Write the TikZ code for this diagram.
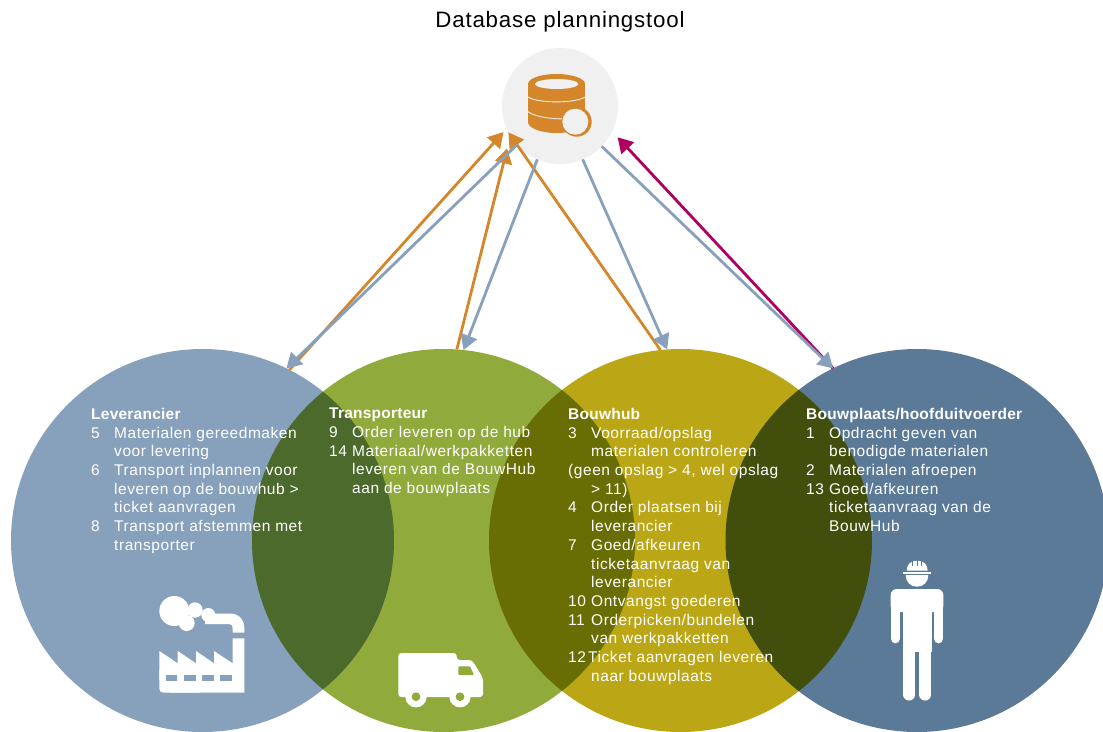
\documentclass[tikz,border=0pt]{standalone}
\usepackage{fontspec}
\setmainfont{Liberation Sans}[LetterSpace=3.6,BoldFeatures={LetterSpace=1.5}]
\usetikzlibrary{arrows.meta}
\usetikzlibrary{math}
\usetikzlibrary{shapes.misc}
\definecolor{levblue}{HTML}{87A0BC}
\definecolor{tragreen}{HTML}{90AA3C}
\definecolor{hubyellow}{HTML}{BBA615}
\definecolor{siteblue}{HTML}{5B7A98}
\definecolor{dbgrey}{HTML}{F0F0F0}
\definecolor{dborange}{HTML}{D5862A}
\definecolor{sitemagenta}{HTML}{B0005F}
\newcommand{\nr}[1]{\makebox[23pt][l]{#1}}
\tikzset{
	partycircle/.style={circle,minimum size=383pt,inner sep=0pt,outer sep=0pt,blend mode=multiply},
	itemtext/.style={text=white,align=left,inner sep=0pt,font=\fontsize{15.5}{18.7}\selectfont},
	orangearrow/.style={draw=dborange,line width=2.8pt,-{Triangle[length=15pt,width=17pt]}},
	bluearrow/.style={draw=levblue,line width=2.8pt,-{Triangle[length=15pt,width=17pt]}},
	magentaarrow/.style={draw=sitemagenta,line width=2.8pt,-{Triangle[length=15pt,width=17pt]}},
}

\begin{document}
\begin{tikzpicture}[x=1pt,y=-1pt]
	\tikzmath{\levx=202.5; \trax=\levx+241; \hubx=\trax+237; \sitex=\hubx+236.5; \ciry=540.5;
	\dbx=560; \dby=106; \texty=408;
	}
	\useasboundingbox (0,0) rectangle (1103,731);
	\clip (0,0) rectangle (1103,731);
	\node (lever) at (\levx,\ciry)[partycircle,fill=levblue]{};
	\node (transp) at (\trax,\ciry)[partycircle,fill=tragreen]{};
	\node (bouwhub) at (\hubx,\ciry)[partycircle,fill=hubyellow]{};
	\node (bouwplaats) at (\sitex,\ciry)[partycircle,fill=siteblue]{};
	\node (db) at (\dbx,\dby)[circle,fill=dbgrey,minimum size=116pt,inner sep=0pt,outer sep=0pt]{};
	\node (title) at (\dbx,22)[inner sep=0pt,font=\fontsize{22.3}{24}\selectfont]{Database planningstool};

	\draw[orangearrow,shorten >=4.6pt] (lever.63.9) -- (db.203);
	\draw[orangearrow,shorten >=13pt] (transp.86) -- (db.211.4);
	\draw[orangearrow] (bouwhub.96.7) -- (db.207);
	\draw[magentaarrow,shorten >=8pt] (bouwplaats.116.4) -- (db.334.5);
	\draw[bluearrow] (db.222.8) -- (lever.64.2);
	\draw[bluearrow] (db.247.8) -- (transp.84.2);
	\draw[bluearrow] (db.293.5) -- (bouwhub.94);
	\draw[bluearrow] (db.316.4) -- (bouwplaats.116.4);

	\node (levtext) at (91,\texty)[below right,itemtext]{\textbf{Leverancier}\\
		\nr{5}Materialen gereedmaken\\
		\nr{}voor levering\\
		\nr{6}Transport inplannen voor\\
		\nr{}leveren op de bouwhub >\\
		\nr{}ticket aanvragen\\
		\nr{8}Transport afstemmen met\\
		\nr{}transporter};
	\node (tratext) at (329,\texty)[below right,itemtext]{\textbf{Transporteur}\\
		\nr{9}Order leveren op de hub\\
		\nr{14}Materiaal/werkpakketten\\
		\nr{}leveren van de BouwHub\\
		\nr{}aan de bouwplaats};
	\node (hubtext) at (568,\texty)[below right,itemtext]{\textbf{Bouwhub}\\
		\nr{3}Voorraad/opslag\\
		\nr{}materialen controleren\\
		(geen opslag > 4, wel opslag\\
		\nr{}> 11)\\
		\nr{4}Order plaatsen bij\\
		\nr{}leverancier\\
		\nr{7}Goed/afkeuren\\
		\nr{}ticketaanvraag van\\
		\nr{}leverancier\\
		\nr{10}Ontvangst goederen\\
		\nr{11}Orderpicken/bundelen\\
		\nr{}van werkpakketten\\
		\nr{12}\hspace{-3pt}Ticket aanvragen leveren\\
		\nr{}naar bouwplaats};
	\node (sitetext) at (806,\texty)[below right,itemtext]{\textbf{Bouwplaats/hoofduitvoerder}\\
		\nr{1}Opdracht geven van\\
		\nr{}benodigde materialen\\
		\nr{2}Materialen afroepen\\
		\nr{13}Goed/afkeuren\\
		\nr{}ticketaanvraag van de\\
		\nr{}BouwHub};

	%database icon
	\fill[dborange] (528,84) rectangle (585,122);
	\fill[dborange] (556.5,84) ellipse[x radius=28.5,y radius=10];
	\fill[dborange] (556.5,122) ellipse[x radius=28.5,y radius=11];
	\fill[dbgrey] (556.7,84) ellipse[x radius=21.7,y radius=5];
	\draw[dbgrey,line width=0.9pt] (528,97) .. controls (538,103.5) and (575,103.5) .. (585,97);
	\draw[dbgrey,line width=0.9pt] (528,111.7) .. controls (535,117) and (552,119) .. (565,119);
	\fill[dborange] (576.7,121.7) circle[radius=15];
	\fill[dbgrey] (575.3,121.7) circle[radius=13];

	%factory icon
	\fill[white] (174.3,611) circle[radius=15];
	\fill[white] (186.7,623) circle[radius=8];
	\fill[white] (195,610) circle[radius=7.7];
	\fill[white] (208.3,615) circle[radius=7];
	\fill[white] (205,613.5) -- (230,613.5) .. controls (239,613.5) and (244.3,620) .. (244.3,628) -- (244.3,632.5) -- (232.7,632.5) -- (232.7,628) .. controls (232.7,625.5) and (231.5,624) .. (229,624) -- (205,624) -- cycle;
	\fill[white,rounded corners=4pt] (159.3,670) -- (159.3,692.7) -- (200,692.7);
	\fill[white] (159.3,651) -- (177.7,663.3) -- (177.7,651) -- (196,663.3) -- (196,651) -- (214,663.3) -- (214,651) -- (232.7,663.3) -- (232.7,638.3) -- (244.3,638.3) -- (244.3,692.7) -- (170,692.7) -- (170,680) -- (159.3,680) -- cycle;
	\fill[levblue] (165.7,675) rectangle (177.3,681);
	\fill[levblue] (183.7,675) rectangle (195.7,681);
	\fill[levblue] (201.7,675) rectangle (214,681);
	\fill[levblue] (220,675) rectangle (232.3,681);

	%truck icon
	\fill[white,rounded corners=3pt] (398.3,697) -- (398.3,653) -- (456.7,653) -- (456.7,660) -- (472,660) -- (483,678) -- (483,697) -- cycle;
	\fill[tragreen,rounded corners=1pt] (458.3,666.3) -- (470,666.3) -- (474,675) -- (458.3,675) -- cycle;
	\fill[white] (416,696.7) circle[radius=10.7];
	\fill[tragreen] (416,696.7) circle[radius=4.4];
	\fill[white] (460,696.7) circle[radius=10.7];
	\fill[tragreen] (460,696.7) circle[radius=4.4];

	%worker icon
	\fill[white] (906.7,570.7) .. controls (906.7,564) and (911,560.7) .. (917.2,560.7) .. controls (923.4,560.7) and (927.7,564) .. (927.7,570.7) -- cycle;
	\fill[white] (903.3,571.7) rectangle (931,574);
	\fill[white] (905.7,575) -- (928.3,575) .. controls (928.3,582) and (923.5,586.7) .. (917,586.7) .. controls (910.5,586.7) and (905.7,582) .. (905.7,575) -- cycle;
	\draw[siteblue,line width=0.8pt] (912.7,560.7) -- (912.7,565.7);
	\draw[siteblue,line width=0.8pt] (917,560) -- (917,565.7);
	\draw[siteblue,line width=0.8pt] (921.7,560.7) -- (921.7,565.7);
	\fill[white,rounded corners=6pt] (890.7,612) -- (890.7,589) -- (943.3,589) -- (943.3,612) -- cycle;
	\fill[white] (902.7,595) rectangle (931.7,652);
	\draw[white,line width=9.3pt,line cap=round] (895.3,600) -- (895.3,638.7);
	\draw[white,line width=9.3pt,line cap=round] (938.7,600) -- (938.7,638.7);
	\draw[white,line width=11.7pt,line cap=round] (909.2,640) -- (909.2,694.7);
	\draw[white,line width=11.7pt,line cap=round] (925.2,640) -- (925.2,694.7);
	\fill[white] (903.3,640) rectangle (931,648);
	\end{tikzpicture}
\end{document}
